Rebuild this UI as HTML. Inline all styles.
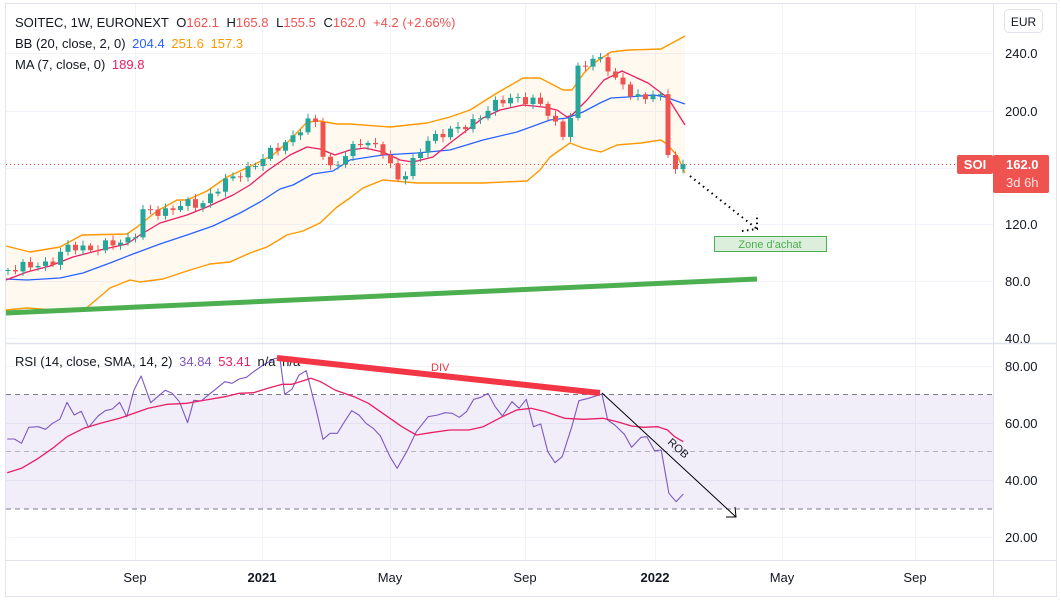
<!DOCTYPE html>
<html><head><meta charset="utf-8"><style>
html,body{margin:0;padding:0;background:#fff;}
svg{display:block;font-family:"Liberation Sans",sans-serif;}
</style></head><body>
<svg id="s" width="1061" height="601" viewBox="0 0 1061 601" xmlns="http://www.w3.org/2000/svg">
<rect x="0" y="0" width="1061" height="601" fill="#fff"/>
<rect x="5.5" y="3.5" width="1051" height="593" fill="none" stroke="#e0e3eb"/>
<g id="grid" stroke="#f0f3fa" stroke-width="1"></g>
<rect x="6" y="394.5" width="987" height="114.5" fill="#7e57c2" fill-opacity="0.1"/>
<line x1="6" y1="394.5" x2="993" y2="394.5" stroke="#787b86" stroke-dasharray="5,4"/>
<line x1="6" y1="451.5" x2="993" y2="451.5" stroke="#b2b5be" stroke-dasharray="5,4"/>
<line x1="6" y1="509" x2="993" y2="509" stroke="#787b86" stroke-dasharray="5,4"/>
<g id="main"></g>
<line x1="6" y1="343.5" x2="1057" y2="343.5" stroke="#e0e3eb" stroke-width="1.5"/>
<line x1="993.5" y1="4" x2="993.5" y2="596" stroke="#e0e3eb"/>
<line x1="6" y1="560.5" x2="1057" y2="560.5" stroke="#e0e3eb"/>
<g font-size="13" fill="#131722" text-anchor="middle">
<text x="135" y="582">Sep</text><text x="262" y="582" font-weight="bold">2021</text>
<text x="390" y="582">May</text><text x="525" y="582">Sep</text>
<text x="655" y="582" font-weight="bold">2022</text><text x="782" y="582">May</text><text x="915" y="582">Sep</text>
</g>
<g font-size="13" fill="#131722">
<text x="1005" y="58">240.0</text><text x="1005" y="116">200.0</text>
<text x="1005" y="229">120.0</text><text x="1005" y="286">80.0</text><text x="1005" y="343">40.0</text>
<text x="1005" y="371">80.00</text><text x="1005" y="428">60.00</text>
<text x="1005" y="485">40.00</text><text x="1005" y="542">20.00</text>
</g>
<rect x="1004.5" y="9.5" width="38" height="23" rx="4" fill="#fff" stroke="#e0e3eb"/>
<text x="1023.5" y="26" font-size="12" fill="#131722" text-anchor="middle">EUR</text>
<line x1="6" y1="164.5" x2="957" y2="164.5" stroke="#ef5350" stroke-dasharray="1,3"/>
<rect x="957" y="155" width="36" height="19" rx="2" fill="#ef5350"/>
<text x="975" y="169" font-size="13" fill="#fff" text-anchor="middle" font-weight="bold">SOI</text>
<rect x="993" y="155" width="56" height="38" rx="2" fill="#ef5350"/>
<text x="1006" y="169" font-size="13" fill="#fff" font-weight="bold">162.0</text>
<text x="1006" y="187" font-size="13" fill="#fde2e2">3d 6h</text>
<rect x="714.5" y="236.5" width="112" height="15" fill="#4caf50" fill-opacity="0.2" stroke="#4caf50"/>
<text x="770" y="248" font-size="11" fill="#4caf50" text-anchor="middle">Zone d'achat</text>
<g font-size="13">
<text x="15" y="27" fill="#131722">SOITEC, 1W, EURONEXT <tspan dx="4">O</tspan><tspan fill="#ef5350">162.1</tspan> <tspan dx="4">H</tspan><tspan fill="#ef5350">165.8</tspan> <tspan dx="4">L</tspan><tspan fill="#ef5350">155.5</tspan> <tspan dx="4">C</tspan><tspan fill="#ef5350">162.0</tspan> <tspan dx="4" fill="#ef5350">+4.2 (+2.66%)</tspan></text>
<text x="15" y="48" fill="#131722">BB (20, close, 2, 0) <tspan dx="3" fill="#2962ff">204.4</tspan> <tspan dx="3" fill="#ff9800">251.6</tspan> <tspan dx="3" fill="#ff9800">157.3</tspan></text>
<text x="15" y="69" fill="#131722">MA (7, close, 0) <tspan dx="3" fill="#e91e63">189.8</tspan></text>
<text x="15" y="366" fill="#131722">RSI (14, close, SMA, 14, 2) <tspan dx="3" fill="#7e57c2">34.84</tspan> <tspan dx="3" fill="#e91e63">53.41</tspan> <tspan dx="3">n/a</tspan> <tspan dx="3">n/a</tspan></text>
</g>
<line x1="277" y1="358" x2="600" y2="393" stroke="#f23645" stroke-width="6"/>
<text x="431" y="371" font-size="11" fill="#f23645">DIV</text>
<line x1="602" y1="393" x2="736" y2="517" stroke="#000" stroke-width="1"/>
<polyline points="726,517 736,517 735,507" fill="none" stroke="#000"/>
<text x="0" y="0" font-size="11" fill="#131722" transform="translate(667,443) rotate(42)">ROB</text>
</svg>
<script>
(function(){
var NS="http://www.w3.org/2000/svg",m=document.getElementById("main"),g=document.getElementById("grid");
function el(p,t,a){var e=document.createElementNS(NS,t);for(var k in a)e.setAttribute(k,a[k]);p.appendChild(e);return e;}
[135,262,390,525,655,782,915].forEach(function(x){el(g,"line",{x1:x+.5,y1:4,x2:x+.5,y2:560});});
[53,111,168,224,281,338,366,423,480,537].forEach(function(y){el(g,"line",{x1:6,y1:y+.5,x2:993,y2:y+.5});});
function pl(pts,c,w){el(m,"polyline",{points:pts.map(function(p){return p.join(",")}).join(" "),fill:"none",stroke:c,"stroke-width":w||1.3,"stroke-linejoin":"round"});}
var up=[[6,246],[30,252],[60,247],[82,235],[127,234],[137,227],[157,211],[177,200],[187,200],[207,191],[227,177],[253,165],[273,155],[290,140],[307,122],[320,121],[337,124],[350,124],[390,127],[427,123],[450,117],[470,110],[497,93],[523,78],[540,78],[563,90],[572,90],[584,73],[594,63],[611,52],[628,50],[661,49],[685,36]];
var lo=[[6,310],[27,308],[67,311],[83,311],[110,288],[130,280],[140,282],[163,279],[187,271],[210,264],[230,262],[250,253],[267,247],[287,235],[303,231],[320,223],[337,207],[350,198],[363,188],[383,180],[417,183],[450,183],[483,183],[527,181],[540,170],[550,157],[570,143],[583,148],[601,152],[617,145],[641,143],[661,140],[668,145],[678,157],[685,173]];
var fill=up.concat(lo.slice().reverse());
el(m,"polygon",{points:fill.map(function(p){return p.join(",")}).join(" "),fill:"#ff9800","fill-opacity":"0.06"});
var bs=[[6,279],[27,280],[60,278],[83,273],[110,263],[133,254],[160,244],[187,235],[213,226],[240,213],[260,202],[280,189],[293,185],[313,174],[333,171],[350,160],[383,155],[417,153],[450,150],[483,140],[517,132],[550,120],[567,118],[583,112],[600,103],[611,98],[628,97],[654,95],[665,97],[685,104]];
var ma=[[6,280],[27,272],[50,266],[73,257],[100,250],[127,244],[140,235],[160,223],[187,215],[207,207],[233,195],[250,185],[267,171],[290,155],[307,147],[320,149],[335,155],[350,150],[365,148],[383,152],[400,160],[413,162],[433,157],[450,143],[483,118],[500,110],[523,105],[543,107],[557,110],[567,117],[572,115],[587,100],[604,80],[622,71],[648,83],[668,98],[685,125]];
pl(up,"#ff9800",1.4);pl(lo,"#ff9800",1.4);pl(bs,"#2962ff",1.3);pl(ma,"#e91e63",1.3);
el(m,"line",{x1:6,y1:313,x2:757,y2:279,stroke:"#4caf50","stroke-width":5});
el(m,"line",{x1:690,y1:176,x2:757,y2:229,stroke:"#000","stroke-width":2,"stroke-dasharray":"1.5,4"});
el(m,"polyline",{points:"742,231 757,229 757,214",fill:"none",stroke:"#000","stroke-width":2,"stroke-dasharray":"1.5,3.5"});
var kp=[[8,268],[30,267],[50,262],[70,247],[100,248],[125,240],[135,235],[140,213],[160,212],[180,205],[200,205],[215,190],[230,180],[245,170],[265,158],[280,145],[295,135],[305,125],[315,120],[322,150],[330,168],[345,158],[360,140],[375,145],[385,155],[392,172],[400,180],[410,165],[425,145],[445,130],[470,127],[490,105],[510,100],[525,98],[535,100],[545,110],[555,125],[565,135],[572,110],[578,70],[590,62],[600,58],[605,55],[612,80],[620,82],[630,95],[640,98],[648,93],[655,95],[662,100],[668,155],[677,172],[683,164]];
function interp(x){for(var i=1;i<kp.length;i++){if(x<=kp[i][0]){var a=kp[i-1],b=kp[i];return a[1]+(b[1]-a[1])*(x-a[0])/(b[0]-a[0]);}}return kp[kp.length-1][1];}
var prev=270;
for(var i=0;i<91;i++){var x=8+i*7.5;if(x>684)break;var c=interp(x)+4*Math.sin(i*2.3)+2*Math.cos(i*5.1);if(x>=662)c=interp(x);
var o=prev;var tp=Math.min(o,c),bt=Math.max(o,c);var hh=tp-2-3*Math.abs(Math.sin(i*1.7)),ll=bt+2+3*Math.abs(Math.cos(i*1.3));
var col=c<=o?"#26a69a":"#ef5350";
el(m,"line",{x1:x,y1:hh,x2:x,y2:ll,stroke:col,"stroke-width":1});
el(m,"rect",{x:x-2.5,y:tp,width:5,height:Math.max(1,bt-tp),fill:col});prev=c;}
function zc(a){return a.map(function(p){return [(p[0]/2.09).toFixed(1),(p[1]/3+340).toFixed(1)];});}
var rsi=[[15,297],[30,297],[45,310],[60,262],[80,260],[95,268],[110,250],[125,238],[140,187],[155,225],[170,214],[185,262],[205,228],[220,212],[235,207],[250,187],[265,230],[280,150],[295,108],[315,188],[345,151],[360,160],[375,185],[392,248],[405,181],[420,183],[440,160],[470,125],[485,130],[500,117],[515,112],[530,95],[550,75],[575,55],[585,55],[595,163],[610,148],[625,105],[640,92],[660,205],[675,298],[690,280],[705,280],[720,245],[735,212],[750,225],[765,250],[780,265],[795,288],[815,350],[830,385],[850,335],[870,275],[895,230],[915,225],[930,218],[945,220],[960,232],[975,215],[990,178],[1005,172],[1020,160],[1035,200],[1050,228],[1070,185],[1085,205],[1100,178],[1115,260],[1130,252],[1145,335],[1160,368],[1175,350],[1195,260],[1210,182],[1230,175],[1258,162],[1270,240],[1285,255],[1305,283],[1320,322],[1340,292],[1352,290],[1368,332],[1382,330],[1398,460],[1413,485],[1428,462]];
var sma=[[15,398],[45,385],[80,355],[110,325],[140,290],[175,265],[210,250],[250,235],[280,220],[310,205],[350,193],[390,190],[430,180],[470,170],[500,160],[530,158],[560,145],[590,133],[610,133],[650,115],[670,125],[700,150],[740,170],[770,190],[810,230],[840,260],[870,285],[900,278],[940,270],[980,270],[1010,260],[1050,230],[1080,210],[1110,205],[1140,215],[1180,235],[1220,238],[1260,235],[1290,245],[1320,258],[1345,262],[1375,260],[1395,270],[1410,290],[1428,305]];
pl(zc(rsi),"#7e57c2",1.1);pl(zc(sma),"#e91e63",1.3);
})();
</script>
</body></html>
